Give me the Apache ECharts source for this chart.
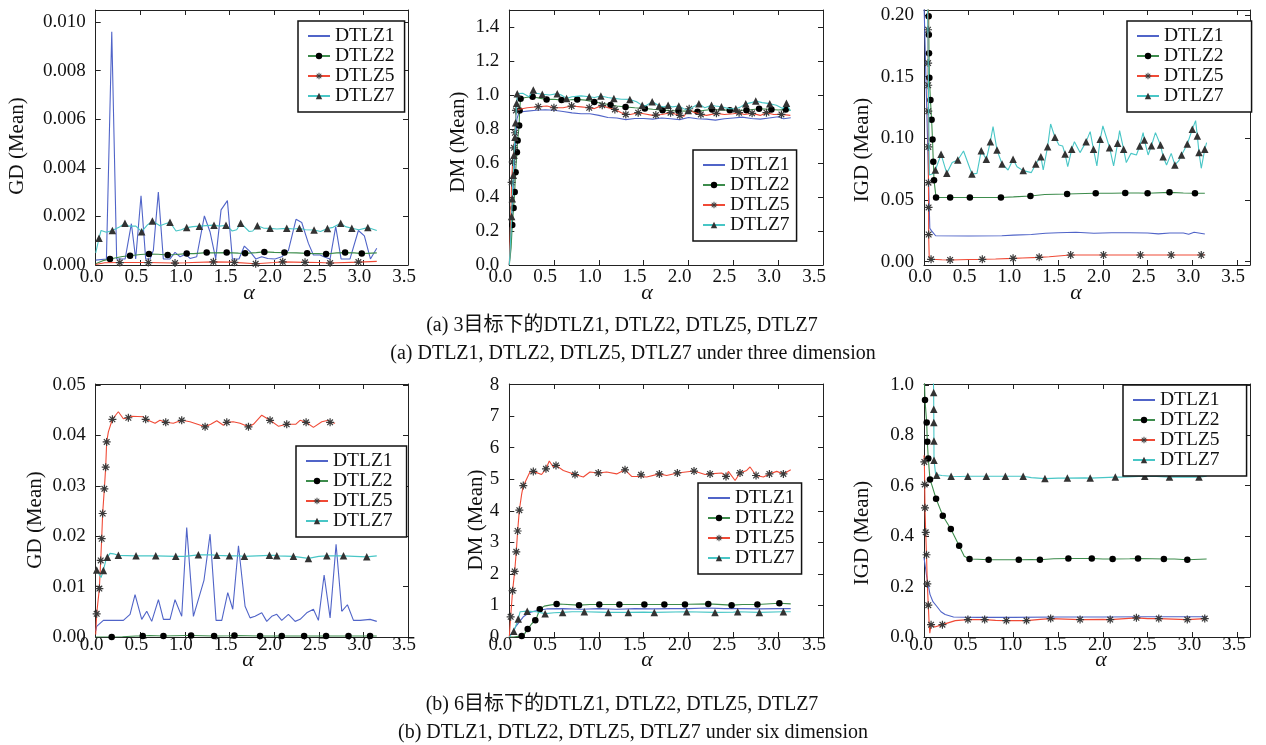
<!DOCTYPE html>
<html><head><meta charset="utf-8">
<script src="https://cdn.jsdelivr.net/npm/echarts@6.0.0/dist/echarts.min.js"></script>
<style>html,body{margin:0;padding:0;background:#fff}#c{width:1266px;height:745px}</style>
</head><body><div id="c"></div>
<script>
// ---------- tick labels ----------
const X_TICKS = [0, 0.5, 1, 1.5, 2, 2.5, 3, 3.5];
const Y_TICKS_P1 = [0, 0.002, 0.004, 0.006, 0.008, 0.010];
const Y_TICKS_P2 = [0, 0.2, 0.4, 0.6, 0.8, 1.0, 1.2, 1.4];
const Y_TICKS_P3 = [0, 0.05, 0.10, 0.15, 0.20];
const Y_TICKS_P4 = [0, 0.01, 0.02, 0.03, 0.04, 0.05];
const Y_TICKS_P5 = [0, 1, 2, 3, 4, 5, 6, 7, 8];
const Y_TICKS_P6 = [0, 0.2, 0.4, 0.6, 0.8, 1.0];
const NAMES = ['DTLZ1', 'DTLZ2', 'DTLZ5', 'DTLZ7'];
const Y_NAMES = ['GD (Mean)', 'DM (Mean)', 'IGD (Mean)', 'GD (Mean)', 'DM (Mean)', 'IGD (Mean)'];
const X_NAME = 'α';
const CAPTIONS = ['(a) 3目标下的DTLZ1, DTLZ2, DTLZ5, DTLZ7', '(a) DTLZ1, DTLZ2, DTLZ5, DTLZ7 under three dimension',
                  '(b) 6目标下的DTLZ1, DTLZ2, DTLZ5, DTLZ7', '(b) DTLZ1, DTLZ2, DTLZ5, DTLZ7 under six dimension'];

// ---------- panel 1 : GD, 3 objectives ----------
const p1_d1 = [[0,0.0002],[0.12,0.00025],[0.18,0.0096],[0.235,0.00025],[0.33,0.00025],[0.40,0.0017],[0.448,0.00025],[0.508,0.00285],[0.56,0.00025],[0.61,0.00025],[0.646,0.0006],[0.702,0.0030],[0.758,0.00025],[0.833,0.00025],[0.889,0.00052],[0.945,0.00034],[1.009,0.00044],[1.057,0.00027],[1.132,0.00034],[1.218,0.00202],[1.281,0.00137],[1.345,0.00025],[1.405,0.00227],[1.476,0.00265],[1.532,0.00025],[1.606,0.00025],[1.666,0.00078],[1.73,0.00055],[1.794,0.00025],[1.86,0.00034],[1.928,0.00027],[2.01,0.00025],[2.085,0.00034],[2.16,0.0006],[2.245,0.00188],[2.309,0.00175],[2.384,0.00089],[2.44,0.00041],[2.515,0.00041],[2.57,0.00032],[2.627,0.00025],[2.69,0.00158],[2.75,0.00025],[2.85,0.00025],[2.944,0.00142],[3.011,0.0012],[3.079,0.00025],[3.15,0.00069]];
const p1_d2_line = [[0,0.00005],[0.08,0.00018],[0.3,0.00035],[0.5,0.00043],[0.7,0.00044],[0.9,0.00043],[1.1,0.00047],[1.3,0.0005],[1.6,0.00049],[1.8,0.00051],[2.0,0.00052],[2.25,0.0005],[2.5,0.00047],[2.7,0.0005],[2.9,0.0005],[3.15,0.0005]];
const p1_d2_mk = [[0.16,0.00025],[0.385,0.00038],[0.597,0.00045],[0.807,0.00041],[1.02,0.00047],[1.244,0.00051],[1.468,0.00051],[1.674,0.00048],[1.89,0.00054],[2.115,0.00051],[2.37,0.00048],[2.582,0.00045],[2.795,0.00051],[2.982,0.00047]];
const p1_d5_line = [[0,0.00002],[0.1,0.00009],[0.5,0.0001],[1.0,0.00009],[1.5,0.00012],[2.0,0.0001],[2.5,0.0001],[3.15,0.00015]];
const p1_d5_mk = [[0.27,0.0001],[0.59,0.0001],[0.889,0.00008],[1.319,0.00013],[1.554,0.00011],[1.793,0.00005],[2.096,0.00013],[2.346,0.00011],[2.627,0.00008],[2.944,0.00012]];
const p1_d7_line = [[0,0.0005],[0.06,0.00142],[0.12,0.00135],[0.26,0.00155],[0.37,0.0016],[0.45,0.0016],[0.58,0.00165],[0.72,0.00162],[0.78,0.0017],[0.9,0.0014],[0.96,0.00145],[1.09,0.00158],[1.24,0.00162],[1.39,0.0016],[1.53,0.0014],[1.58,0.00145],[1.72,0.00138],[1.76,0.0014],[1.88,0.00152],[2.03,0.00148],[2.22,0.00148],[2.35,0.00145],[2.52,0.00138],[2.66,0.00155],[2.8,0.00158],[2.95,0.00145],[3.15,0.00142]];
const p1_d7_mk = [[0.037,0.0011],[0.187,0.00142],[0.328,0.00172],[0.515,0.00137],[0.635,0.00181],[0.833,0.00176],[1.02,0.00154],[1.162,0.0016],[1.326,0.00164],[1.46,0.00164],[1.625,0.00172],[1.812,0.00162],[1.954,0.00151],[2.141,0.00151],[2.283,0.00151],[2.447,0.00144],[2.597,0.0015],[2.746,0.00172],[2.87,0.00151],[3.05,0.00154]];

// ---------- panel 2 : DM, 3 objectives ----------
const p2_d1 = [[0,0],[0.03,0.3],[0.06,0.62],[0.085,0.86],[0.11,0.9],[0.2,0.905],[0.3,0.91],[0.4,0.913],[0.5,0.91],[0.6,0.903],[0.7,0.895],[0.8,0.89],[0.9,0.89],[1.0,0.88],[1.1,0.868],[1.2,0.865],[1.3,0.855],[1.4,0.862],[1.5,0.862],[1.6,0.858],[1.7,0.865],[1.8,0.86],[1.9,0.855],[2.0,0.868],[2.1,0.86],[2.2,0.858],[2.3,0.852],[2.4,0.86],[2.5,0.865],[2.6,0.87],[2.7,0.862],[2.8,0.858],[2.9,0.865],[3.0,0.872],[3.06,0.86],[3.14,0.866]];
const p2_d2_line = [[0,0],[0.02,0.1],[0.18,0.985],[0.35,0.98],[0.5,0.975],[0.68,0.972],[0.85,0.97],[1.05,0.95],[1.2,0.935],[1.4,0.925],[1.6,0.916],[1.8,0.908],[2.0,0.905],[2.18,0.91],[2.35,0.912],[2.55,0.91],[2.72,0.915],[2.85,0.918],[3.0,0.912],[3.136,0.911]];
const p2_d2_mk = [[0.033,0.236],[0.048,0.335],[0.06,0.43],[0.07,0.545],[0.085,0.663],[0.093,0.732],[0.11,0.82],[0.115,0.909],[0.126,0.978],[0.26,0.99],[0.416,0.974],[0.583,0.97],[0.758,0.974],[0.948,0.959],[1.13,0.941],[1.297,0.929],[1.512,0.921],[1.71,0.911],[1.888,0.906],[2.1,0.902],[2.263,0.915],[2.46,0.911],[2.646,0.911],[2.787,0.919],[2.925,0.915],[3.084,0.915]];
const p2_d5_line = [[0,0],[0.015,0.25],[0.1,0.915],[0.2,0.925],[0.42,0.935],[0.6,0.925],[0.8,0.93],[0.95,0.92],[1.1,0.925],[1.25,0.895],[1.35,0.885],[1.5,0.89],[1.6,0.88],[1.7,0.885],[1.85,0.888],[1.95,0.875],[2.05,0.9],[2.2,0.88],[2.4,0.885],[2.5,0.89],[2.62,0.885],[2.8,0.88],[2.95,0.885],[3.136,0.88]];
const p2_d5_mk = [[0.026,0.486],[0.037,0.606],[0.052,0.689],[0.063,0.778],[0.074,0.909],[0.323,0.931],[0.498,0.925],[0.695,0.935],[0.892,0.925],[1.037,0.939],[1.178,0.915],[1.3,0.886],[1.438,0.896],[1.635,0.882],[1.799,0.896],[1.903,0.88],[2.007,0.919],[2.137,0.886],[2.311,0.892],[2.564,0.896],[2.709,0.892],[2.869,0.896],[3.036,0.886]];
const p2_d7_line = [[0,0],[0.015,0.15],[0.1,1.0],[0.15,1.01],[0.22,0.99],[0.3,1.01],[0.45,1.0],[0.58,1.0],[0.7,0.99],[0.8,0.995],[0.95,0.985],[1.1,0.985],[1.25,0.975],[1.42,0.96],[1.52,0.935],[1.63,0.95],[1.72,0.93],[1.82,0.93],[1.94,0.92],[2.05,0.93],[2.18,0.925],[2.3,0.935],[2.45,0.92],[2.58,0.93],[2.7,0.955],[2.82,0.955],[2.98,0.94],[3.05,0.92],[3.136,0.906]];
const p2_d7_mk = [[0.026,0.285],[0.033,0.39],[0.045,0.528],[0.052,0.646],[0.063,0.752],[0.07,0.837],[0.082,0.951],[0.089,1.008],[0.268,1.03],[0.368,1.004],[0.535,1.008],[0.639,0.98],[0.892,0.99],[1.022,0.994],[1.167,0.98],[1.345,0.974],[1.483,0.939],[1.594,0.961],[1.672,0.935],[1.772,0.939],[1.891,0.935],[1.996,0.909],[2.115,0.949],[2.256,0.939],[2.367,0.931],[2.527,0.919],[2.638,0.949],[2.75,0.965],[2.906,0.949],[3.092,0.951]];

// ---------- panel 3 : IGD, 3 objectives ----------
const p3_d1 = [[0,0.21],[0.065,0.027],[0.085,0.025],[0.13,0.021],[0.5,0.0208],[0.87,0.021],[1.0,0.0215],[1.2,0.022],[1.36,0.023],[1.5,0.0235],[1.7,0.0238],[1.9,0.023],[2.1,0.0235],[2.3,0.0235],[2.5,0.0232],[2.62,0.0225],[2.75,0.0232],[2.9,0.0232],[2.96,0.0222],[3.02,0.0238],[3.14,0.0224]];
const p3_d2_line = [[0.048,0.21],[0.125,0.058],[0.2,0.052],[0.7,0.052],[1.0,0.0525],[1.35,0.0545],[1.8,0.0552],[2.1,0.0555],[2.4,0.0557],[2.9,0.0557],[3.14,0.0554]];
const p3_d2_mk = [[0.052,0.199],[0.054,0.184],[0.056,0.169],[0.06,0.149],[0.072,0.131],[0.085,0.115],[0.095,0.099],[0.104,0.081],[0.112,0.066],[0.135,0.052],[0.292,0.052],[0.513,0.052],[0.86,0.052],[1.19,0.0532],[1.6,0.0548],[1.92,0.0555],[2.25,0.0557],[2.5,0.0554],[2.745,0.0562],[3.03,0.0554]];
const p3_d5_line = [[0.044,0.21],[0.058,0.004],[0.2,0.0016],[0.5,0.0018],[0.8,0.0022],[1.1,0.003],[1.4,0.004],[1.6,0.0052],[2.0,0.0054],[2.5,0.0054],[3.14,0.0056]];
const p3_d5_mk = [[0.045,0.188],[0.046,0.161],[0.047,0.143],[0.048,0.122],[0.049,0.093],[0.05,0.064],[0.051,0.044],[0.052,0.022],[0.079,0.0019],[0.292,0.0014],[0.652,0.0019],[0.996,0.0027],[1.288,0.0035],[1.64,0.0054],[2.007,0.0054],[2.42,0.0054],[2.764,0.0054],[3.1,0.0054]];
const p3_d7_line = [[0.04,0.21],[0.06,0.0703],[0.116,0.0716],[0.315,0.0803],[0.442,0.0897],[0.592,0.0716],[0.772,0.1095],[0.94,0.0743],[1.04,0.077],[1.2,0.0722],[1.333,0.0743],[1.416,0.1116],[1.509,0.0946],[1.55,0.0938],[1.607,0.077],[1.682,0.0973],[1.745,0.0884],[1.858,0.1054],[1.933,0.0776],[2.0,0.11],[2.12,0.0776],[2.187,0.1062],[2.262,0.0803],[2.315,0.0878],[2.375,0.0865],[2.45,0.1046],[2.506,0.0865],[2.588,0.1046],[2.712,0.0784],[2.764,0.0878],[2.85,0.0819],[3.037,0.1143],[3.1,0.0757],[3.16,0.0965]];
const p3_d7_mk = [[0.127,0.0743],[0.191,0.087],[0.255,0.0716],[0.378,0.0824],[0.536,0.0711],[0.64,0.09],[0.697,0.083],[0.742,0.0973],[0.816,0.0905],[0.873,0.0792],[0.996,0.083],[1.109,0.0738],[1.25,0.0792],[1.307,0.0851],[1.382,0.0932],[1.464,0.1008],[1.577,0.0873],[1.652,0.0911],[1.813,0.0973],[1.895,0.0911],[1.97,0.0992],[2.075,0.0924],[2.165,0.0959],[2.232,0.0911],[2.412,0.0938],[2.464,0.0986],[2.543,0.094],[2.644,0.0946],[2.674,0.0851],[2.805,0.0784],[2.88,0.0865],[2.944,0.0954],[3.0,0.1073],[3.056,0.1019],[3.075,0.0884],[3.139,0.0911]];

// ---------- panel 4 : GD, 6 objectives ----------
const p4_d1 = [[0,0.0012],[0.011,0.0021],[0.086,0.0033],[0.31,0.0033],[0.385,0.0045],[0.441,0.0084],[0.516,0.0035],[0.572,0.0051],[0.628,0.0031],[0.703,0.0074],[0.759,0.0035],[0.833,0.0035],[0.889,0.0074],[0.964,0.0041],[1.02,0.0217],[1.095,0.0041],[1.214,0.0113],[1.282,0.0204],[1.349,0.0033],[1.413,0.0033],[1.48,0.0088],[1.536,0.0055],[1.6,0.0181],[1.674,0.0061],[1.73,0.0038],[1.786,0.0041],[1.861,0.0048],[1.917,0.0031],[1.973,0.0041],[2.029,0.0045],[2.085,0.0033],[2.16,0.0045],[2.235,0.0031],[2.291,0.0035],[2.365,0.0048],[2.44,0.0055],[2.496,0.0033],[2.56,0.0123],[2.627,0.0038],[2.694,0.0184],[2.758,0.0051],[2.821,0.0064],[2.889,0.0033],[2.963,0.0033],[3.075,0.0035],[3.15,0.0031]];
const p4_d2_line = [[0,0],[0.3,0.00005],[0.45,0.0002],[0.6,0.0003],[1.0,0.0003],[1.5,0.00025],[2.0,0.0002],[2.5,0.0002],[3.15,0.0002]];
const p4_d2_mk = [[0.179,0.0],[0.527,0.0002],[0.759,0.0002],[1.069,0.0003],[1.327,0.0002],[1.555,0.0003],[1.842,0.0002],[2.085,0.0002],[2.336,0.0002],[2.582,0.0002],[2.833,0.0002],[3.075,0.0002]];
const p4_d5_line = [[0,0.0005],[0.142,0.0407],[0.254,0.0447],[0.31,0.0433],[0.404,0.0438],[0.534,0.0437],[0.665,0.0424],[0.72,0.043],[0.87,0.0424],[1.057,0.0427],[1.289,0.0422],[1.357,0.0429],[1.431,0.042],[1.54,0.0427],[1.618,0.0424],[1.767,0.0422],[1.861,0.044],[2.05,0.0418],[2.241,0.0422],[2.29,0.043],[2.44,0.0416],[2.534,0.0427],[2.608,0.043],[2.683,0.0424]];
const p4_d5_mk = [[0.011,0.0046],[0.041,0.0096],[0.056,0.0152],[0.067,0.0195],[0.078,0.0245],[0.097,0.0294],[0.112,0.0337],[0.123,0.0387],[0.187,0.0432],[0.366,0.0435],[0.56,0.0432],[0.785,0.0426],[0.964,0.043],[1.226,0.0417],[1.469,0.0426],[1.712,0.0417],[1.954,0.043],[2.141,0.0422],[2.358,0.0426],[2.627,0.0426]];
const p4_d7_line = [[0.06,0.0118],[0.116,0.0154],[0.16,0.0166],[0.2,0.0165],[0.6,0.0161],[1.0,0.016],[1.3,0.0163],[1.6,0.0161],[2.0,0.0162],[2.3,0.0158],[2.5,0.016],[2.9,0.016],[3.15,0.0161]];
const p4_d7_mk = [[0.011,0.0133],[0.086,0.0132],[0.131,0.0158],[0.254,0.0162],[0.452,0.0161],[0.673,0.0161],[0.897,0.016],[1.151,0.0163],[1.357,0.0162],[1.499,0.0161],[1.667,0.016],[1.947,0.0162],[2.03,0.0161],[2.216,0.016],[2.384,0.0156],[2.59,0.0161],[2.777,0.0161],[3.038,0.0159]];

// ---------- panel 5 : DM, 6 objectives ----------
const p5_d1 = [[0,0],[0.04,0.18],[0.082,0.37],[0.156,0.64],[0.23,0.78],[0.323,0.85],[0.416,0.89],[0.6,0.9],[0.8,0.88],[1.0,0.9],[1.2,0.88],[1.4,0.9],[1.6,0.89],[1.8,0.9],[2.0,0.9],[2.2,0.92],[2.4,0.9],[2.6,0.9],[2.8,0.89],[3.0,0.9],[3.14,0.9]];
const p5_d2_line = [[0,0],[0.05,0.0],[0.1,0.02],[0.17,0.1],[0.25,0.42],[0.31,0.65],[0.39,0.98],[0.6,1.04],[0.9,1.03],[1.4,1.03],[2.0,1.04],[2.6,1.03],[3.14,1.05]];
const p5_d2_mk = [[0.138,0.03],[0.205,0.25],[0.29,0.53],[0.34,0.88],[0.528,1.05],[0.778,1.01],[1.004,1.03],[1.228,1.03],[1.507,1.03],[1.73,1.03],[1.96,1.03],[2.22,1.05],[2.48,1.01],[2.768,1.03],[3.013,1.07]];
const p5_d5_line = [[0,0],[0.138,4.53],[0.175,4.9],[0.23,5.23],[0.36,5.15],[0.446,5.58],[0.49,5.39],[0.603,5.28],[0.826,5.07],[0.9,5.23],[1.086,5.23],[1.198,5.17],[1.365,5.09],[1.458,5.09],[1.533,5.07],[1.756,5.12],[2.184,5.15],[2.37,5.2],[2.444,5.25],[2.519,4.96],[2.649,5.28],[2.686,5.39],[2.835,5.07],[2.984,5.25],[3.14,5.3]];
const p5_d5_mk = [[0.015,0.64],[0.037,1.47],[0.06,2.08],[0.078,2.7],[0.093,3.36],[0.112,4.02],[0.156,4.8],[0.268,5.25],[0.409,5.33],[0.521,5.44],[0.733,5.15],[0.993,5.2],[1.291,5.3],[1.47,5.14],[1.674,5.17],[1.875,5.2],[2.061,5.26],[2.24,5.17],[2.418,5.09],[2.574,5.2],[2.753,5.12],[2.902,5.17],[3.058,5.17]];
const p5_d7_line = [[0,0],[0.12,0.8],[0.3,0.8],[0.5,0.77],[0.7,0.8],[1.0,0.79],[1.5,0.79],[2.0,0.81],[2.5,0.79],[3.14,0.8]];
const p5_d7_mk = [[0.05,0.18],[0.1,0.57],[0.2,0.82],[0.4,0.74],[0.595,0.78],[0.837,0.8],[1.105,0.78],[1.328,0.78],[1.618,0.78],[1.979,0.8],[2.295,0.78],[2.548,0.8],[2.79,0.78],[3.058,0.8]];

// ---------- panel 6 : IGD, 6 objectives ----------
const p6_d1 = [[0,0.315],[0.03,0.24],[0.067,0.169],[0.1,0.14],[0.142,0.122],[0.19,0.1],[0.236,0.089],[0.33,0.079],[0.6,0.078],[1.0,0.078],[1.5,0.079],[2.0,0.079],[2.5,0.08],[3.16,0.08]];
const p6_d2_line = [[0.005,1.02],[0.09,0.6],[0.45,0.32],[0.6,0.308],[0.9,0.306],[1.2,0.307],[1.45,0.31],[1.75,0.311],[2.0,0.309],[2.3,0.31],[2.55,0.31],[2.8,0.309],[3.16,0.309]];
const p6_d2_mk = [[0.011,0.94],[0.03,0.85],[0.037,0.774],[0.048,0.708],[0.067,0.624],[0.135,0.548],[0.21,0.481],[0.3,0.428],[0.393,0.362],[0.509,0.309],[0.723,0.306],[1.06,0.306],[1.296,0.306],[1.614,0.311],[1.876,0.311],[2.109,0.309],[2.393,0.311],[2.682,0.309],[2.944,0.306]];
const p6_d5_line = [[0,0.72],[0.058,0.05],[0.065,0.015],[0.12,0.04],[0.35,0.065],[0.8,0.066],[1.3,0.07],[2.0,0.07],[2.5,0.073],[3.16,0.075]];
const p6_d5_mk = [[0.004,0.694],[0.008,0.605],[0.011,0.512],[0.019,0.415],[0.028,0.326],[0.037,0.211],[0.048,0.126],[0.079,0.049],[0.206,0.049],[0.491,0.069],[0.678,0.069],[0.921,0.065],[1.146,0.065],[1.416,0.073],[1.745,0.069],[2.082,0.069],[2.375,0.076],[2.625,0.073],[2.944,0.069],[3.139,0.073]];
const p6_d7_line = [[0.105,1.02],[0.13,0.644],[0.2,0.64],[0.4,0.636],[0.8,0.637],[1.2,0.632],[1.5,0.63],[1.8,0.631],[2.2,0.634],[2.6,0.636],[3.16,0.637]];
const p6_d7_mk = [[0.108,0.969],[0.109,0.903],[0.11,0.85],[0.111,0.777],[0.112,0.701],[0.142,0.641],[0.303,0.637],[0.49,0.637],[0.697,0.637],[0.91,0.637],[1.109,0.637],[1.352,0.628],[1.603,0.63],[1.858,0.63],[2.139,0.634],[2.468,0.637],[2.745,0.634],[3.075,0.634]];

// ---------- layout (pixels) ----------
const PANELS = [
  {grid:[95.7,10,312.3,255], xmax:3.5,   ymin:0, ymax:0.0105, yt:Y_TICKS_P1, dec:3, xs:4, lg:[298,21,10], yn:[17,146], xn:[249,293],
   d:{DTLZ1:[p1_d1], DTLZ2:[p1_d2_line,p1_d2_mk], DTLZ5:[p1_d5_line,p1_d5_mk], DTLZ7:[p1_d7_line,p1_d7_mk]}},
  {grid:[509.3,10,313.7,255], xmax:3.5,  ymin:0, ymax:1.5, yt:Y_TICKS_P2, dec:1, xs:9, lg:[693,150,7], yn:[458,142], xn:[647,293],
   d:{DTLZ1:[p2_d1], DTLZ2:[p2_d2_line,p2_d2_mk], DTLZ5:[p2_d5_line,p2_d5_mk], DTLZ7:[p2_d7_line,p2_d7_mk]}},
  {grid:[924,10,326,255], xmax:3.645,    ymin:-0.0027, ymax:0.204, yt:Y_TICKS_P3, dec:2, xs:4, lg:[1127,21,28], yn:[862,150], xn:[1076,293],
   d:{DTLZ1:[p3_d1], DTLZ2:[p3_d2_line,p3_d2_mk], DTLZ5:[p3_d5_line,p3_d5_mk], DTLZ7:[p3_d7_line,p3_d7_mk]}},
  {grid:[95.7,384,312.3,253], xmax:3.5,  ymin:0, ymax:0.0502, yt:Y_TICKS_P4, dec:2, xs:4, lg:[296,446,14], yn:[35,520], xn:[248,660],
   d:{DTLZ1:[p4_d1], DTLZ2:[p4_d2_line,p4_d2_mk], DTLZ5:[p4_d5_line,p4_d5_mk], DTLZ7:[p4_d7_line,p4_d7_mk]}},
  {grid:[509.3,384,313.7,253], xmax:3.5, ymin:0, ymax:8.02, yt:Y_TICKS_P5, dec:0, xs:9, lg:[698,483,7], yn:[476,520], xn:[647,660],
   d:{DTLZ1:[p5_d1], DTLZ2:[p5_d2_line,p5_d2_mk], DTLZ5:[p5_d5_line,p5_d5_mk], DTLZ7:[p5_d7_line,p5_d7_mk]}},
  {grid:[924,384,326,253], xmax:3.645,   ymin:0, ymax:1.003, yt:Y_TICKS_P6, dec:1, xs:3, lg:[1123,385,27], yn:[862,533], xn:[1101,660],
   d:{DTLZ1:[p6_d1], DTLZ2:[p6_d2_line,p6_d2_mk], DTLZ5:[p6_d5_line,p6_d5_mk], DTLZ7:[p6_d7_line,p6_d7_mk]}}
];

const ASTER = 'path://M-10,-1.5L10,-1.5L10,1.5L-10,1.5ZM-1.5,-10L1.5,-10L1.5,10L-1.5,10ZM-6.01,-8.13L8.13,6.01L6.01,8.13L-8.13,-6.01ZM-8.13,6.01L6.01,-8.13L8.13,-6.01L-6.01,8.13Z';
const STY = {
  DTLZ1:{line:'#5064c8', symbol:'none', mcolor:'#5064c8', size:0},
  DTLZ2:{line:'#3d8c4c', symbol:'circle', mcolor:'#000', size:6.5},
  DTLZ5:{line:'#f04a36', symbol:ASTER, mcolor:'#3a3a3a', size:8},
  DTLZ7:{line:'#48c6c6', symbol:'triangle', mcolor:'#333', size:7.5}
};
const FONT = 'Liberation Serif, Times New Roman, serif';

function merge(line, marks) {
  const pts = line.map(p => ({x:p[0], y:p[1], m:false}))
    .concat((marks || []).map(p => ({x:p[0], y:p[1], m:true})));
  pts.sort((a, b) => a.x - b.x);
  return pts.map(p => p.m ? {value:[p.x, p.y]} : {value:[p.x, p.y], symbol:'none'});
}

const grids = [], xAxes = [], yAxes = [], series = [], legends = [], graphics = [];
const AX_COL = '#222';
const LEGEND_ITEMS = NAMES.map(n => STY[n].symbol === 'none' ? {name:n, itemStyle:{opacity:0}} : {name:n});
PANELS.forEach((p, i) => {
  grids.push({left:p.grid[0], top:p.grid[1], width:p.grid[2], height:p.grid[3], containLabel:false});
  const line = {show:true, onZero:false, lineStyle:{color:AX_COL, width:1}};
  const tick = vals => ({show:true, inside:true, length:5, customValues:vals, lineStyle:{color:AX_COL, width:1}});
  const lbl = {fontFamily:FONT, fontSize:19, color:'#111'};
  xAxes.push({type:'value', gridIndex:i, position:'bottom', min:0, max:p.xmax, axisLine:line, splitLine:{show:false},
    axisTick:tick(X_TICKS), axisLabel:Object.assign({customValues:X_TICKS, formatter:v => v.toFixed(1), margin:i < 3 ? 3 : -1, padding:[0, 2 * p.xs, 0, 0]}, lbl)});
  xAxes.push({type:'value', gridIndex:i, position:'top', min:0, max:p.xmax, axisLine:line, splitLine:{show:false},
    axisTick:tick(X_TICKS), axisLabel:{show:false}});
  yAxes.push({type:'value', gridIndex:i, position:'left', min:p.ymin, max:p.ymax, axisLine:line, splitLine:{show:false},
    axisTick:tick(p.yt), axisLabel:Object.assign({customValues:p.yt, formatter:v => v.toFixed(p.dec), margin:10}, lbl)});
  yAxes.push({type:'value', gridIndex:i, position:'right', min:p.ymin, max:p.ymax, axisLine:line, splitLine:{show:false},
    axisTick:tick(p.yt), axisLabel:{show:false}});
  NAMES.forEach((n, k) => {
    const s = STY[n];
    const src = p.d[n];
    series.push({
      type:'line', name:n, xAxisIndex:2 * i, yAxisIndex:2 * i,
      data: merge(src[0], src[1]),
      symbol:s.symbol, symbolSize:s.size, symbolKeepAspect:true, showSymbol:true, showAllSymbol:true,
      lineStyle:{color:s.line, width:1.1}, itemStyle:{color:s.mcolor, borderColor:s.mcolor, borderWidth:0},
      emphasis:{disabled:true}, silent:true, clip:true, z:2 + k, animation:false
    });
  });
  legends.push({
    orient:'vertical', left:p.lg[0], top:p.lg[1], padding:[5, p.lg[2], 6, 9],
    itemGap:0, itemWidth:22, itemHeight:8, borderColor:'#111', borderWidth:1.5, backgroundColor:'#fff',
    textStyle:{fontFamily:FONT, fontSize:19.5, color:'#111', lineHeight:20},
    lineStyle:{width:2}, selectedMode:false, data:LEGEND_ITEMS, z:10
  });
  graphics.push({type:'text', x:p.yn[0], y:p.yn[1], rotation:Math.PI / 2,
    style:{text:Y_NAMES[i], font:'21px ' + FONT, fill:'#111', textAlign:'center', textVerticalAlign:'middle'}});
  graphics.push({type:'text', x:p.xn[0], y:p.xn[1],
    style:{text:X_NAME, font:'italic 22px ' + FONT, fill:'#111', textAlign:'center', textVerticalAlign:'middle'}});
});
const CAP_FONT = '20px Liberation Serif, Noto Sans CJK SC, serif';
[[622,326],[633,354],[622,705],[633,733]].forEach((pos, j) => {
  graphics.push({type:'text', x:pos[0], y:pos[1],
    style:{text:CAPTIONS[j], font:CAP_FONT, fill:'#111', textAlign:'center', textVerticalAlign:'middle'}});
});

const chart = echarts.init(document.getElementById('c'), null, {renderer:'canvas'});
chart.setOption({
  animation:false, backgroundColor:'#fff',
  grid:grids, xAxis:xAxes, yAxis:yAxes, series:series, legend:legends, graphic:graphics
});
</script></body></html>
